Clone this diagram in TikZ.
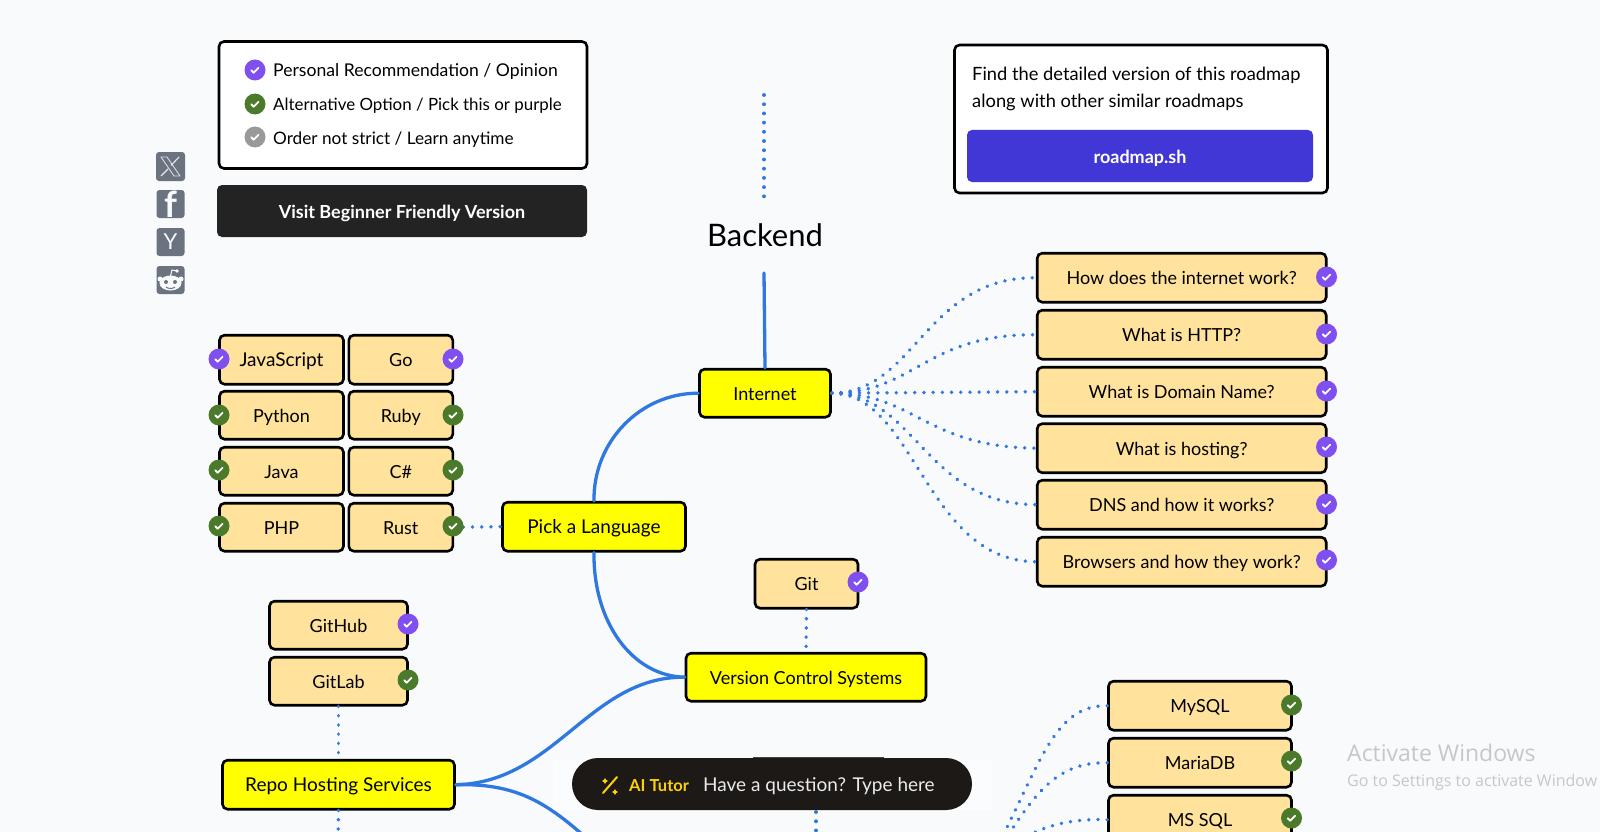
\documentclass[tikz,border=0pt]{standalone}
\usepackage{fontspec}
\setmainfont{Lato}
\newfontfamily\winfont{Open Sans}
\usetikzlibrary{calc}
\definecolor{bgc}{HTML}{F9FAFC}
\definecolor{topicc}{HTML}{FFE29B}
\definecolor{mainc}{HTML}{FFFF00}
\definecolor{linec}{HTML}{2F78DF}
\definecolor{purplec}{HTML}{7F4FF0}
\definecolor{greenc}{HTML}{4B7A2A}
\definecolor{greyc}{HTML}{999999}
\definecolor{darkc}{HTML}{232323}
\definecolor{blubtn}{HTML}{4136D6}
\definecolor{socialc}{HTML}{6B7280}
\definecolor{pillc}{HTML}{1C1917}
\definecolor{winc}{HTML}{C6C7CA}
\tikzset{
 boxbase/.style={draw=black,line width=2.6pt,rounded corners=5pt,inner sep=0pt,align=center,font=\fontsize{18}{20}\selectfont,text=black,text height=14pt,text depth=0pt,yshift=-0.7pt},
 topic/.style={boxbase,fill=topicc},
 mainbox/.style={boxbase,fill=mainc},
 framebox/.style={draw=black,line width=2.6pt,rounded corners=5pt,fill=white,inner sep=0pt},
 chk/.style={circle,fill=#1,minimum size=21pt,inner sep=0pt,
  path picture={\draw[white,line width=1.8pt,line cap=round,line join=round]
   ($(path picture bounding box.center)+(-3.8,0.2)$) -- ++(2.5,2.5) -- ++(4.9,-5);}},
 solidc/.style={draw=linec,line width=3.3pt,line cap=round},
 dotc/.style={draw=linec,line width=3.8pt,line cap=round,dash pattern=on 0.01pt off 9.2pt},
 legendtext/.style={anchor=base west,inner sep=0pt,font=\fontsize{17.2}{20}\selectfont,text=black},
 infotext/.style={anchor=base west,inner sep=0pt,font=\fontsize{18.3}{20}\selectfont,text=black},
 btntext/.style={text height=14pt,text depth=0pt},
 social/.style={fill=socialc,rounded corners=3pt,inner sep=0pt,minimum width=28pt,minimum height=28pt},
}
\begin{document}
\begin{tikzpicture}[x=1pt,y=-1pt]
\useasboundingbox (0,0) rectangle (1600,832);
\clip (0,0) rectangle (1600,832);
\fill[bgc] (0,0) rectangle (1600,832);

% legend
\node[framebox,minimum width=368pt,minimum height=127pt] (legend) at (403,105) {};
\node[chk=purplec] (l1) at (255,70) {};
\node[chk=greenc] (l2) at (255,104) {};
\node[chk=greyc] (l3) at (255,137) {};
\node[legendtext,font=\fontsize{17.6}{20}\selectfont] (lt1) at (273,77) {Personal Recommendation / Opinion};
\node[legendtext,font=\fontsize{16.9}{20}\selectfont] (lt2) at (273,110.5) {Alternative Option / Pick this or purple};
\node[legendtext] (lt3) at (273,144.5) {Order not strict / Learn anytime};
\node[fill=darkc,rounded corners=5pt,minimum width=370pt,minimum height=52pt,inner sep=0pt,text=white,btntext,font=\fontsize{18}{20}\selectfont\bfseries] (beginner) at (402,211) {Visit Beginner Friendly Version};

% social
\node[social,minimum width=29pt,minimum height=29pt] (sx) at (170.5,166.5) {};
\draw[white!75!socialc,line width=0.9pt,line join=round] (161,157) -- (167,157) -- (180,176) -- (174,176) -- cycle;
\draw[white!85!socialc,line width=1.1pt] (179,157) -- (171,165.5) (168,169) -- (161,176);
\node[social,font=\fontsize{36}{36}\selectfont\bfseries,text=bgc] (sf) at (170.5,204) {\raisebox{-8pt}{f}};
\node[social,font=\fontsize{22}{22}\selectfont,text=bgc] (sy) at (170.5,242) {Y};
\node[social] (sr) at (170.5,280) {};
\fill[bgc] (170.5,283) ellipse (11pt and 7.5pt);
\fill[bgc] (160,279) circle (2.5pt) (181,279) circle (2.5pt) (177,271) circle (1.8pt);
\draw[bgc,line width=1pt] (170.5,276) -- (172,270) -- (177,271);
\fill[socialc] (166,282) circle (2pt) (175,282) circle (2pt);
\draw[socialc,line width=1pt] (166,287) .. controls (168,289) and (173,289) .. (175,287);

% info box
\node[framebox,minimum width=373pt,minimum height=148pt] (info) at (1141,119) {};
\node[infotext] (i1) at (972,80.5) {Find the detailed version of this roadmap};
\node[infotext] (i2) at (972,107.5) {along with other similar roadmaps};
\node[fill=blubtn,rounded corners=5pt,minimum width=346pt,minimum height=52pt,inner sep=0pt,text=white,btntext,font=\fontsize{18}{20}\selectfont\bfseries] (rm) at (1140,156) {roadmap.sh};

% title
\coordinate (t0) at (764,95);
\coordinate (t1) at (764,199);
\node[inner sep=0pt,font=\fontsize{31}{34}\selectfont,text=black] (title) at (765,235) {Backend};
\coordinate (t2) at (764,273);

% main boxes
\node[mainbox,minimum width=131pt,minimum height=48pt] (internet) at (765,392.5) {Internet};
\node[mainbox,minimum width=183pt,minimum height=49pt,font=\fontsize{19}{20}\selectfont] (pick) at (594,526) {Pick a Language};
\node[mainbox,minimum width=240pt,minimum height=48pt] (vcs) at (806,676.5) {Version Control Systems};
\node[mainbox,minimum width=232pt,minimum height=49pt,font=\fontsize{19}{20}\selectfont] (repo) at (338.5,784) {Repo Hosting Services};

% internet topics
\node[topic,minimum width=289pt,minimum height=49pt] (q1) at (1181.7,277) {How does the internet work?};
\node[topic,minimum width=289pt,minimum height=49pt] (q2) at (1181.7,334) {What is HTTP?};
\node[topic,minimum width=289pt,minimum height=49pt] (q3) at (1181.7,391) {What is Domain Name?};
\node[topic,minimum width=289pt,minimum height=49pt] (q4) at (1181.7,447.5) {What is hosting?};
\node[topic,minimum width=289pt,minimum height=49pt] (q5) at (1181.7,504) {DNS and how it works?};
\node[topic,minimum width=289pt,minimum height=49pt] (q6) at (1181.7,561) {Browsers and how they work?};

% languages
\node[topic,minimum width=124pt,minimum height=49pt,font=\fontsize{19}{20}\selectfont] (js) at (281.5,359) {JavaScript};
\node[topic,minimum width=104pt,minimum height=49pt] (go) at (400.8,359) {Go};
\node[topic,minimum width=124pt,minimum height=48pt] (py) at (281.5,414.5) {Python};
\node[topic,minimum width=104pt,minimum height=48pt] (rb) at (400.8,414.5) {Ruby};
\node[topic,minimum width=124pt,minimum height=48pt] (ja) at (281.5,470.5) {Java};
\node[topic,minimum width=104pt,minimum height=48pt] (cs) at (400.8,470.5) {C\#};
\node[topic,minimum width=124pt,minimum height=48pt] (ph) at (281.5,526.5) {PHP};
\node[topic,minimum width=104pt,minimum height=48pt] (ru) at (400.8,526.5) {Rust};

% vcs, repo
\node[topic,minimum width=103pt,minimum height=49pt] (git) at (806.5,583) {Git};
\node[topic,minimum width=138pt,minimum height=48pt] (gh) at (338.5,624.5) {GitHub};
\node[topic,minimum width=138pt,minimum height=48pt] (gl) at (338.5,680.5) {GitLab};

% databases
\node[topic,minimum width=183pt,minimum height=49pt] (my) at (1200,705) {MySQL};
\node[topic,minimum width=183pt,minimum height=49pt] (ma) at (1200,762) {MariaDB};
\node[topic,minimum width=183pt,minimum height=49pt] (ms) at (1200,819) {MS SQL};

% free ends
\coordinate (repoD) at (338,845);
\coordinate (repoN) at (610,860);
\coordinate (dbsrc) at (980,880);
\coordinate (hidD) at (816,845);

% connectors
\draw[dotc] (t0) -- (t1);
\draw[solidc] (t2) -- (internet.north);
\draw[solidc] (pick.north) .. controls (593,442) and (640,393) .. (internet.west);
\draw[solidc] (pick.south) .. controls (593,622) and (632,676) .. (vcs.west);
\draw[solidc] (vcs.west) .. controls (590,676) and (555,783) .. (repo.east);
\draw[solidc] (repo.east) .. controls (525,783) and (555,808) .. (repoN);
\draw[dotc] (internet.east) .. controls (915,393) and (925,277) .. (q1.west);
\draw[dotc] (internet.east) .. controls (915,393) and (925,334) .. (q2.west);
\draw[dotc] (internet.east) -- (q3.west);
\draw[dotc] (internet.east) .. controls (915,393) and (925,447) .. (q4.west);
\draw[dotc] (internet.east) .. controls (915,393) and (925,504) .. (q5.west);
\draw[dotc] (internet.east) .. controls (915,393) and (925,561) .. (q6.west);
\draw[dotc] (ru.east) -- (pick.west);
\draw[dotc] (git.south) -- (vcs.north);
\draw[dotc] (gl.south) -- (repo.north);
\draw[dotc] (repo.south) -- (repoD);
\draw[dotc] (my.west) .. controls (1050,705) and (1040,770) .. (dbsrc);
\draw[dotc] (ma.west) .. controls (1050,762) and (1030,800) .. (dbsrc);
\draw[dotc] (ms.west) .. controls (1060,818) and (1015,830) .. (dbsrc);

% check badges
\foreach \n/\x/\y/\c in {a1/1326.5/277/purplec,a2/1326.5/334/purplec,a3/1326.5/391/purplec,a4/1326.5/447/purplec,a5/1326.5/504/purplec,a6/1326.5/560/purplec,
 b1/219/359/purplec,b2/453/359/purplec,b3/219/415/greenc,b4/453/415/greenc,b5/219/470/greenc,b6/453/470/greenc,b7/219/526/greenc,b8/453/526/greenc,
 c1/858/582/purplec,c2/408/624/purplec,c3/408/680/greenc,
 d1/1291.5/705/greenc,d2/1291.5/761/greenc,d3/1291.5/818/greenc}{
 \node[chk=\c] (\n) at (\x,\y) {};
}

% AI tutor bar
\fill[white,opacity=0.45] (553,760) rectangle (992,810);
\node[fill=darkc!85!white,minimum width=131pt,minimum height=10pt,inner sep=0pt] (hidden) at (818.5,762) {};
\draw[dotc] (816,812) -- (hidD);
\node[fill=pillc,rounded corners=26pt,minimum width=400pt,minimum height=52pt,inner sep=0pt] (pill) at (772,784) {};
\draw[yellow!70!orange,line width=2pt,line cap=round] (603,793) -- (617,777);
\draw[yellow!70!orange,line width=1.2pt,line cap=round] (605,779) -- (605,783) (603,781) -- (607,781) (615,790) -- (615,794) (613,792) -- (617,792);
\node[anchor=base west,inner sep=0pt,font=\fontsize{16.5}{20}\selectfont\bfseries,text=yellow!70!orange] (ait) at (629,791) {AI Tutor};
\node[anchor=base west,inner sep=0pt,font=\fontsize{19}{22}\selectfont,text=white!92!black] (aiq) at (703,791) {Have a question? Type here};

% watermark
\node[anchor=west,inner sep=0pt,font=\winfont\fontsize{23}{28}\selectfont,text=winc] (w1) at (1347,753) {Activate Windows};
\node[anchor=west,inner sep=0pt,font=\winfont\fontsize{16}{20}\selectfont,text=winc] (w2) at (1347,782) {Go to Settings to activate Window};
\end{tikzpicture}
\end{document}
